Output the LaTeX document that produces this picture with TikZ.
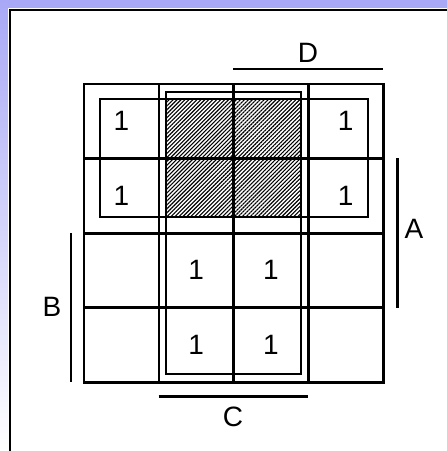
\documentclass[tikz,border=0pt]{standalone}
\usepackage{fontspec}
\setmainfont{Liberation Sans}
\usetikzlibrary{positioning, patterns.meta}
\definecolor{lavender}{RGB}{168,168,246}

\begin{document}
\begin{tikzpicture}[x=1pt, y=-1pt,
    cell/.style={minimum width=74.75pt, minimum height=74.5pt, inner sep=0pt},
    gridline/.style={line width=2.6pt},
    lbl/.style={inner sep=0pt, font=\fontsize{28}{30}\selectfont},
    loop/.style={line width=2.6pt},
    bar/.style={line width=2.6pt},
  ]
  \useasboundingbox (0,0) rectangle (447,451);
  % slide background and white panel
  \fill[lavender] (0,0) rectangle (447,8);
  \shade[top color=lavender, bottom color=white] (0,0) rectangle (8,451);
  \fill[white] (8,8) rectangle (447,451);
  \draw[line width=2.8pt] (10,451) -- (10,10) -- (447,10);

  % don't care cells
  \fill[pattern={Lines[angle=45, distance=2.8pt, line width=1.1pt]}]
    (166,99) rectangle (301,217);

  % the map
  \foreach \r in {0,...,3}
    \foreach \c in {0,...,3}
      \node[cell] (c\r\c) at ({84+74.75*(\c+0.5)}, {84+74.5*(\r+0.5)}) {};
  \draw[gridline] (c00.north west) rectangle (c33.south east);
  \foreach \c in {0,1,2}
    \draw[gridline] (c0\c.north east) -- (c3\c.south east);
  \foreach \r in {0,1,2}
    \draw[gridline] (c\r0.south west) -- (c\r3.south east);

  \foreach \cl in {00,03,10,13,21,22,31,32}
    \node[lbl] (one\cl) at (c\cl) {1};

  % groups
  \draw[loop] (100,99) rectangle (368,217);
  \draw[loop] (166,92) rectangle (301,374);

  % variables
  \draw[bar] ([yshift=15pt]c02.north west) -- ([yshift=15pt]c03.north east);
  \draw[bar] ([xshift=14pt]c13.north east) -- ([xshift=14pt]c23.south east);
  \draw[bar] ([xshift=-13pt]c20.north west) -- ([xshift=-13pt]c30.south west);
  \draw[bar] ([yshift=-14pt]c31.south west) -- ([yshift=-14pt]c32.south east);
  \node[lbl] (D) at (308,53) {D};
  \node[lbl] (A) at (414,229) {A};
  \node[lbl] (B) at (52,307) {B};
  \node[lbl] (C) at (233,417) {C};
\end{tikzpicture}
\end{document}
